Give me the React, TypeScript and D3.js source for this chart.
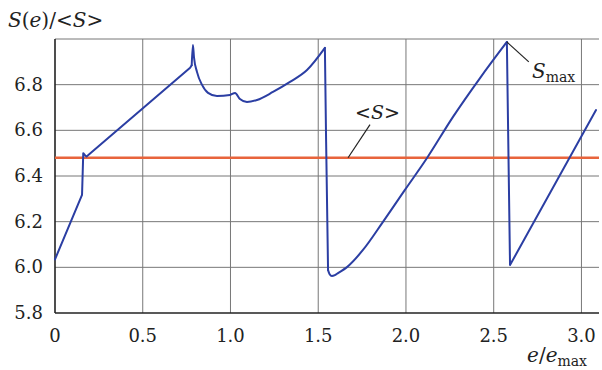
import React from 'react'
import * as d3 from 'd3'

// e / e_max
const eRatio = [
    0, 0.154, 0.158, 0.161, 0.172, 0.18, 0.77, 0.779, 0.786, 0.792, 0.809, 0.838, 0.872, 0.923, 0.997, 1.026,
    1.054, 1.094, 1.151, 1.242, 1.339, 1.436, 1.538, 1.545, 1.556, 1.565, 1.578, 1.595, 1.613, 1.664, 1.755,
    1.869, 1.994, 2.12, 2.268, 2.422, 2.575, 2.593, 3.083,
]
// S(e) / <S>
const sRatio = [
    6.035, 6.317, 6.42, 6.5, 6.49, 6.485, 6.874, 6.885, 6.974, 6.92, 6.856, 6.799, 6.764, 6.75, 6.755, 6.764,
    6.737, 6.724, 6.733, 6.768, 6.812, 6.864, 6.961, 6.55, 5.988, 5.97, 5.962, 5.966, 5.975, 6.001, 6.076,
    6.199, 6.339, 6.479, 6.659, 6.829, 6.987, 6.01, 6.689,
]
// index ranges drawn as smooth curves (the rest are straight pieces)
const smoothRanges = [[7, 22], [24, 36]]
const meanS = 6.48
const xTicks = [0, 0.5, 1.0, 1.5, 2.0, 2.5, 3.0]
const yTicks = [5.8, 6.0, 6.2, 6.4, 6.6, 6.8]

const W = 602
const H = 370
const FONT = "'DejaVu Serif', serif"

export default function App() {
    const x = d3.scaleLinear().domain([0, 3.1]).range([55, 599])
    const y = d3.scaleLinear().domain([5.8, 7.0]).range([313, 39])

    const pts = eRatio.map((e, i) => [e, sRatio[i]] as [number, number])
    const straight = d3.line<[number, number]>().x(d => x(d[0])).y(d => y(d[1]))
    const smooth = d3.line<[number, number]>().x(d => x(d[0])).y(d => y(d[1])).curve(d3.curveMonotoneX)

    // build pieces alternating straight / smooth
    const pieces: string[] = []
    let start = 0
    smoothRanges.forEach(([a, b]) => {
        pieces.push(straight(pts.slice(start, a + 1)) || '')
        pieces.push(smooth(pts.slice(a, b + 1)) || '')
        start = b
    })
    pieces.push(straight(pts.slice(start)) || '')

    const [x0, x1] = x.range()
    const [yb, yt] = y.range()
    const peak = pts[36]

    return (
        <svg width={W} height={H} style={{ position: 'absolute', left: 0, top: 0, background: '#fff' }}
            fontFamily={FONT}>
            {/* grid */}
            {xTicks.filter(t => t > 0).map(t => (
                <line key={'gx' + t} x1={x(t)} x2={x(t)} y1={yt} y2={yb} stroke="#777" strokeWidth={1} />
            ))}
            {yTicks.filter(t => t > 5.8).concat([7.0]).map(t => (
                <line key={'gy' + t} x1={x0} x2={x1} y1={y(t)} y2={y(t)} stroke="#777" strokeWidth={1} />
            ))}
            {/* axes */}
            <line x1={x0} x2={x0} y1={yt} y2={yb} stroke="#222" strokeWidth={1.6} />
            <line x1={x0} x2={x1} y1={yb} y2={yb} stroke="#222" strokeWidth={1.6} />

            {yTicks.map(t => (
                <text key={'ty' + t} x={43} y={y(t) + 6} textAnchor="end" fontSize={18} fill="#222">
                    {t.toFixed(1)}
                </text>
            ))}
            {xTicks.map(t => (
                <text key={'tx' + t} x={x(t)} y={342} textAnchor="middle" fontSize={18} fill="#222">
                    {t === 0 ? '0' : t.toFixed(1)}
                </text>
            ))}

            {/* mean line */}
            <line x1={x0} x2={x1} y1={y(meanS)} y2={y(meanS)} stroke="#e8643c" strokeWidth={2.5} />

            {/* S(e) curve */}
            {pieces.map((d, i) => (
                <path key={i} d={d} fill="none" stroke="#2b3ea3" strokeWidth={2} strokeLinejoin="round"
                    strokeLinecap="round" />
            ))}

            {/* annotations */}
            <line x1={x(1.67)} y1={y(meanS)} x2={x(1.795)} y2={y(6.625)} stroke="#222" strokeWidth={1.2} />
            <text x={355} y={119} fontSize={19} fill="#222">
                {'<'}<tspan fontStyle="italic">S</tspan>{'>'}
            </text>
            <line x1={x(peak[0])} y1={y(peak[1])} x2={x(2.7)} y2={y(6.9)} stroke="#222" strokeWidth={1.2} />
            <text x={532} y={78} fontSize={20} fill="#222">
                <tspan fontStyle="italic">S</tspan>
                <tspan fontSize={14} dy={4}>max</tspan>
            </text>

            {/* axis titles */}
            <text x={8} y={27} fontSize={20} fill="#222">
                <tspan fontStyle="italic">S</tspan>(<tspan fontStyle="italic">e</tspan>)/{'<'}<tspan fontStyle="italic">S</tspan>{'>'}
            </text>
            <text x={587} y={362} textAnchor="end" fontSize={20} fill="#222">
                <tspan fontStyle="italic">e</tspan>/<tspan fontStyle="italic">e</tspan>
                <tspan fontSize={14} dy={4}>max</tspan>
            </text>
        </svg>
    )
}
